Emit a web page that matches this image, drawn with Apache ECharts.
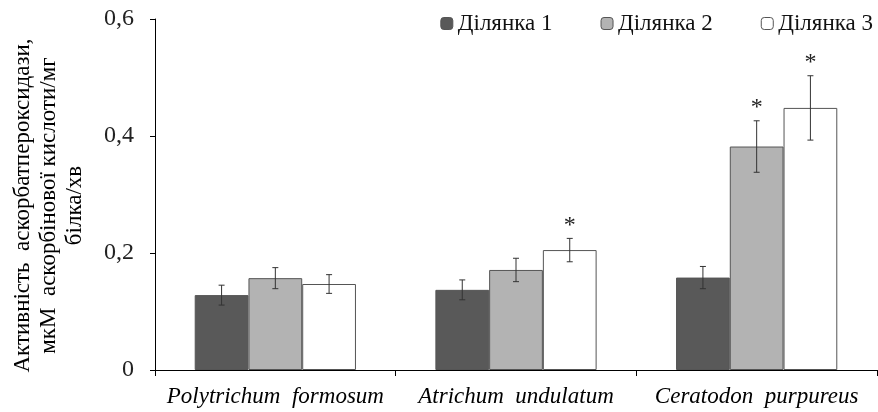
<!DOCTYPE html>
<html><head><meta charset="utf-8">
<script src="https://cdn.jsdelivr.net/npm/echarts@6/dist/echarts.min.js"></script>
<style>html,body{margin:0;padding:0;background:#fff}#c{width:878px;height:412px}</style>
</head><body><div id="c"></div>
<script>
var categories = ['Polytrichum  formosum', 'Atrichum  undulatum', 'Ceratodon  purpureus'];
var seriesNames = ['Ділянка 1', 'Ділянка 2', 'Ділянка 3'];
var site1 = [0.128, 0.137, 0.158];
var site2 = [0.157, 0.171, 0.382];
var site3 = [0.147, 0.205, 0.448];
var err1 = [0.017, 0.017, 0.019];
var err2 = [0.018, 0.020, 0.044];
var err3 = [0.016, 0.020, 0.055];
var star1 = [false, false, false];
var star2 = [false, false, true];
var star3 = [false, true, true];
var yTicks = ['0', '0,2', '0,4', '0,6'];

var values = [site1, site2, site3];
var errs = [err1, err2, err3];
var stars = [star1, star2, star3];
var fills = ['#595959', '#b3b3b3', '#ffffff'];
var FONT = 'Liberation Serif';
var FS = 23;
var GAP = 0.33;

var chart = echarts.init(document.getElementById('c'));
var series = [];
seriesNames.forEach(function (n, i) {
  series.push({
    name: n, type: 'bar', data: values[i], barGap: 0, barCategoryGap: (GAP * 100) + '%',
    itemStyle: { color: fills[i], borderColor: '#555', borderWidth: 1 }
  });
});
seriesNames.forEach(function (n, i) {
  var d = values[i].map(function (v, k) { return [k, v, errs[i][k], stars[i][k] ? 1 : 0]; });
  series.push({
    type: 'custom', data: d, z: 10, silent: true,
    renderItem: function (params, api) {
      var k = api.value(0), v = api.value(1), e = api.value(2), s = api.value(3);
      var cw = api.size([1, 0])[0];
      var bw = cw * (1 - GAP) / 3;
      var c = api.coord([k, v]);
      var x = c[0] + (i - 1) * bw;
      var top = api.coord([k, v + e])[1];
      var bot = api.coord([k, v - e])[1];
      var st = { stroke: '#333', lineWidth: 1 };
      var ch = [
        { type: 'line', shape: { x1: x, y1: top, x2: x, y2: bot }, style: st },
        { type: 'line', shape: { x1: x - 3, y1: top, x2: x + 3, y2: top }, style: st },
        { type: 'line', shape: { x1: x - 3, y1: bot, x2: x + 3, y2: bot }, style: st }
      ];
      if (s) {
        ch.push({ type: 'text', style: { text: '*', x: x, y: top - 1, align: 'center', verticalAlign: 'bottom', fontFamily: FONT, fontSize: 24, fill: '#222' } });
      }
      return { type: 'group', children: ch };
    }
  });
});

chart.setOption({
  animation: false,
  backgroundColor: '#fff',
  grid: { left: 155, right: 1, top: 19, bottom: 42, containLabel: false, outerBoundsMode: 'none' },
  legend: {
    data: seriesNames, right: 0, top: 7, itemWidth: 12, itemHeight: 12, itemGap: 48,
    textStyle: { fontFamily: FONT, fontSize: FS, color: '#111' },
    itemStyle: { borderColor: '#555', borderWidth: 1 }
  },
  xAxis: {
    type: 'category', data: categories,
    axisLine: { lineStyle: { color: '#000', width: 1 } },
    axisTick: { show: true, length: 6, lineStyle: { color: '#000' } },
    axisLabel: { interval: 0, margin: 15, fontFamily: FONT, fontSize: FS, fontStyle: 'italic', color: '#000' }
  },
  yAxis: {
    type: 'value', min: 0, max: 0.6, interval: 0.2,
    splitLine: { show: false },
    axisLine: { show: true, lineStyle: { color: '#000', width: 1 } },
    axisTick: { show: true, length: 5, lineStyle: { color: '#000' } },
    axisLabel: {
      margin: 21, fontFamily: FONT, fontSize: 24, color: '#222',
      formatter: function (v) { return yTicks[Math.round(v / 0.2)]; }
    },
    name: 'Активність  аскорбатпероксидази,\nмкМ  аскорбінової кислоти/мг\nбілка/хв',
    nameLocation: 'middle', nameGap: 67, nameRotate: 90, nameMoveOverlap: false,
    nameTextStyle: { fontFamily: FONT, fontSize: FS, color: '#000', lineHeight: 26, align: 'center', padding: [0, 22, 0, 0] }
  },
  series: series
});
</script></body></html>
